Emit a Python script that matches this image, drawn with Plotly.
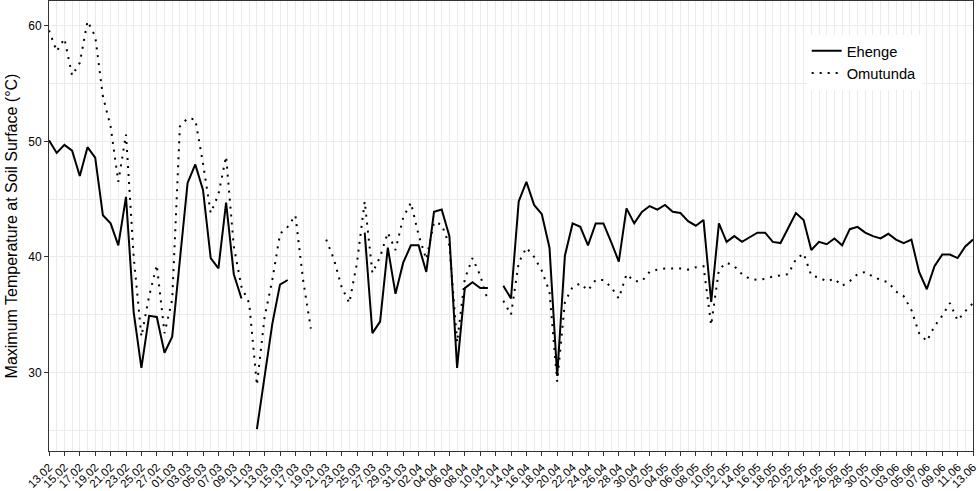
"""Daily maximum temperature at the soil surface, Ehenge vs Omutunda.

One value per day from 13 Feb to 13 Jun; None marks days without a record.
"""

import pandas as pd
import plotly.graph_objects as go

START_DATE = "2015-02-13"
END_DATE = "2015-06-13"

EHENGE = [
    50.1, 49.0, 49.7, 49.2, 47.0, 49.5, 48.6, 43.6, 42.9, 41.0,
    45.2, 35.2, 30.4, 34.9, 34.8, 31.7, 33.1, 40.0, 46.4, 48.0,
    45.8, 39.9, 39.0, 44.7, 38.5, 36.4, None, 25.1, 29.5, 34.2,
    37.6, 38.0, None, None, None, None, None, None, None, None,
    None, 42.1, 33.4, 34.4, 40.8, 36.8, 39.5, 41.0, 41.0, 38.7,
    43.9, 44.1, 41.8, 30.4, 37.3, 37.8, 37.3, 37.3, None, 37.5,
    36.4, 44.8, 46.5, 44.5, 43.7, 40.8, 29.7, 40.1, 42.9, 42.6,
    41.0, 42.9, 42.9, 41.3, 39.6, 44.2, 42.9, 43.9, 44.4, 44.1,
    44.5, 43.9, 43.8, 43.1, 42.7, 43.2, 36.1, 42.9, 41.3, 41.8,
    41.3, 41.7, 42.1, 42.1, 41.3, 41.2, 42.5, 43.8, 43.2, 40.6,
    41.3, 41.1, 41.6, 41.0, 42.4, 42.6, 42.1, 41.8, 41.6, 42.0,
    41.5, 41.2, 41.5, 38.7, 37.2, 39.2, 40.2, 40.2, 39.9, 40.9,
    41.5,
]

OMUTUNDA = [
    59.6, 57.8, 58.9, 55.7, 56.8, 60.4, 59.1, 53.9, 51.3, 46.5,
    50.6, 40.0, 33.1, 36.6, 39.3, 33.4, 36.3, 51.3, 52.0, 51.9,
    48.1, 43.8, 45.4, 48.7, 40.9, 37.4, 36.0, 28.9, 34.8, 38.0,
    42.0, 42.6, 43.6, 38.0, 33.8, None, 41.5, 39.8, 37.4, 36.0,
    39.5, 44.8, 38.6, 40.0, 42.1, 40.6, 43.4, 44.7, 41.9, 39.8,
    43.0, 42.8, 41.0, 32.6, 38.1, 39.9, 38.4, 36.2, None, 36.2,
    35.0, 39.5, 40.8, 40.0, 38.8, 37.0, 29.2, 36.1, 37.4, 37.7,
    37.1, 38.0, 38.0, 37.4, 36.4, 38.5, 37.9, 37.9, 38.7, 38.9,
    39.0, 39.0, 39.0, 38.9, 39.1, 39.2, 34.1, 38.9, 39.5, 39.2,
    38.5, 38.1, 38.0, 38.1, 38.3, 38.4, 38.5, 39.8, 40.3, 38.4,
    38.2, 37.9, 38.1, 37.5, 37.9, 38.5, 38.7, 38.3, 38.0, 37.8,
    37.0, 36.6, 35.4, 33.4, 32.7, 34.0, 34.9, 36.0, 34.5, 35.3,
    36.0,
]

Y_TICKS = [30, 40, 50, 60]

_FONT = "Liberation Sans, Arial, sans-serif"
_GRID = "#EBEBEB"
_BORDER = "#333333"
_DAY_MS = 86_400_000

dates = pd.date_range(START_DATE, END_DATE, freq="D")

fig = go.Figure()
fig.add_trace(
    go.Scatter(
        x=dates,
        y=EHENGE,
        mode="lines",
        name="Ehenge",
        line={"color": "black", "width": 2},
        connectgaps=False,
    )
)
fig.add_trace(
    go.Scatter(
        x=dates,
        y=OMUTUNDA,
        mode="lines",
        name="Omutunda",
        line={"color": "black", "width": 2, "dash": "2px,6px"},
        connectgaps=False,
    )
)

fig.update_layout(
    width=979,
    height=491,
    margin={"l": 49, "r": 6, "t": 1, "b": 40},
    paper_bgcolor="white",
    plot_bgcolor="white",
    font={"family": _FONT, "color": "black"},
    showlegend=True,
    legend={
        "x": 0.82,
        "y": 0.925,
        "xanchor": "left",
        "yanchor": "top",
        "bgcolor": "white",
        "font": {"size": 14.7, "color": "black"},
        "itemwidth": 30,
    },
)
fig.update_xaxes(
    range=[dates[0], dates[-1]],
    tick0=START_DATE,
    dtick=2 * _DAY_MS,
    tickformat="%d.%m",
    tickangle=-45,
    tickfont={"size": 11.5, "color": "black"},
    ticks="outside",
    ticklen=4,
    tickcolor=_BORDER,
    showgrid=True,
    gridcolor=_GRID,
    gridwidth=1,
    minor={"dtick": _DAY_MS, "showgrid": True, "gridcolor": _GRID, "gridwidth": 1},
    showline=True,
    linecolor=_BORDER,
    linewidth=1,
    mirror=True,
    zeroline=False,
    automargin=False,
)
fig.update_yaxes(
    range=[23.2, 62.15],
    tickvals=Y_TICKS,
    tickfont={"size": 12, "color": "black"},
    ticks="outside",
    ticklen=4,
    tickcolor=_BORDER,
    showgrid=True,
    gridcolor=_GRID,
    gridwidth=1,
    minor={"dtick": 5, "showgrid": True, "gridcolor": _GRID, "gridwidth": 1},
    showline=True,
    linecolor=_BORDER,
    linewidth=1,
    mirror=True,
    zeroline=False,
    title={
        "text": "Maximum Temperature at Soil Surface (°C)",
        "font": {"size": 16, "color": "black"},
        "standoff": 6,
    },
    automargin=False,
)

# the page's default body margin would push the 979x491 figure off-screen
fig.write_html(
    "out.html",
    config={"displayModeBar": False},
    post_script="document.body.style.margin = '0';",
)
